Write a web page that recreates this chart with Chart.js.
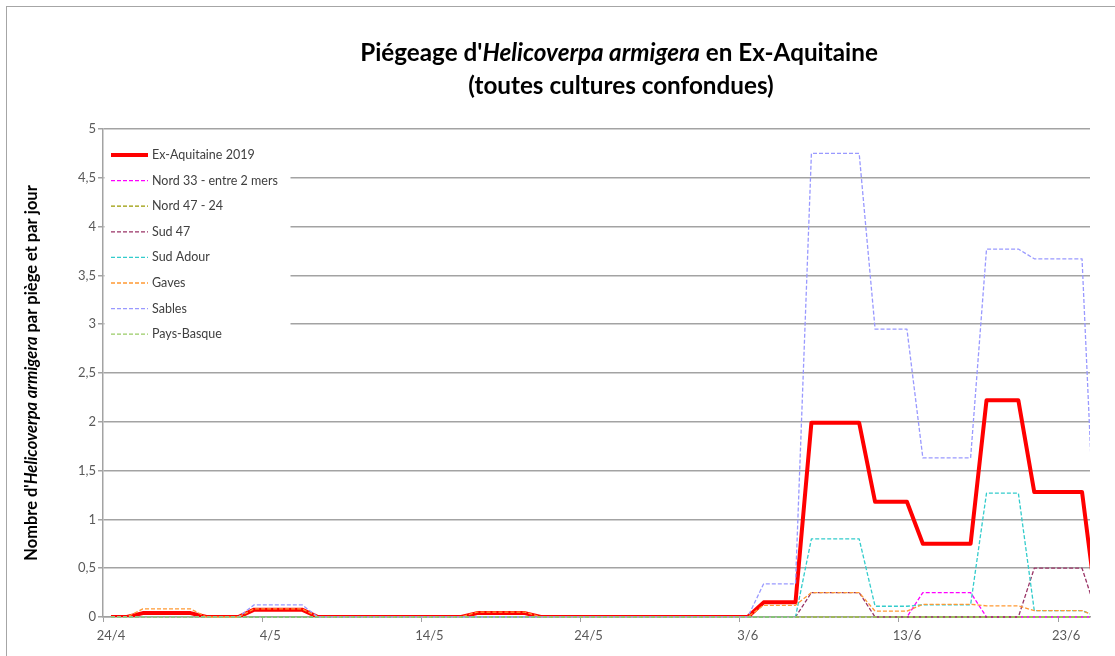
<!DOCTYPE html>
<html><head><meta charset="utf-8">
<script src="https://cdn.jsdelivr.net/npm/chart.js@4.4.1/dist/chart.umd.min.js"></script>
<style>html,body{margin:0;padding:0;background:#fff;}canvas{display:block;}</style>
</head><body>
<canvas id="c" width="1115" height="656"></canvas>
<script>
// ---- data (one value per day, day 0 = 24/4, day 62 = 25/6) ----
const xTickLabels = ['24/4','4/5','14/5','24/5','3/6','13/6','23/6'];
const seriesNames = ['Ex-Aquitaine 2019','Nord 33 - entre 2 mers','Nord 47 - 24','Sud 47','Sud Adour','Gaves','Sables','Pays-Basque'];

const exAquitaine = [
 0,0,0.04,0.04,0.04,0.04,0,0,0,0.075,
 0.075,0.075,0.075,0,0,0,0,0,0,0,
 0,0,0,0.04,0.04,0.04,0.04,0,0,0,
 0,0,0,0,0,0,0,0,0,0,
 0,0.15,0.15,0.15,1.99,1.99,1.99,1.99,1.18,1.18,
 1.18,0.75,0.75,0.75,0.75,2.22,2.22,2.22,1.28,1.28,
 1.28,1.28,0];
const nord33 = [
 0,0,0,0,0,0,0,0,0,0,
 0,0,0,0,0,0,0,0,0,0,
 0,0,0,0,0,0,0,0,0,0,
 0,0,0,0,0,0,0,0,0,0,
 0,0,0,0,0,0,0,0,0,0,
 0,0.25,0.25,0.25,0.25,0,0,0,0,0,
 0,0,0];
const nord4724 = [
 0,0,0,0,0,0,0,0,0,0,
 0,0,0,0,0,0,0,0,0,0,
 0,0,0,0,0,0,0,0,0,0,
 0,0,0,0,0,0,0,0,0,0,
 0,0,0,0,0,0,0,0,0,0,
 0,0,0,0,0,0,0,0,0,0,
 0,0,0];
const sud47 = [
 0,0,0,0,0,0,0,0,0,0,
 0,0,0,0,0,0,0,0,0,0,
 0,0,0,0,0,0,0,0,0,0,
 0,0,0,0,0,0,0,0,0,0,
 0,0,0,0,0.25,0.25,0.25,0.25,0,0,
 0,0,0,0,0,0,0,0,0.5,0.5,
 0.5,0.5,0];
const sudAdour = [
 0,0,0,0,0,0,0,0,0,0,
 0,0,0,0,0,0,0,0,0,0,
 0,0,0,0,0,0,0,0,0,0,
 0,0,0,0,0,0,0,0,0,0,
 0,0,0,0,0.8,0.8,0.8,0.8,0.11,0.11,
 0.11,0.125,0.125,0.125,0.125,1.27,1.27,1.27,0.065,0.065,
 0.065,0.065,0];
const gaves = [
 0,0,0.083,0.083,0.083,0.083,0,0,0,0.083,
 0.083,0.083,0.083,0,0,0,0,0,0,0,
 0,0,0,0.05,0.05,0.05,0.05,0,0,0,
 0,0,0,0,0,0,0,0,0,0,
 0,0.12,0.12,0.12,0.25,0.25,0.25,0.25,0.06,0.06,
 0.06,0.13,0.13,0.13,0.13,0.115,0.115,0.115,0.065,0.065,
 0.065,0.065,0];
const sables = [
 0,0,0,0,0,0,0,0,0,0.125,
 0.125,0.125,0.125,0,0,0,0,0,0,0,
 0,0,0,0,0,0,0,0,0,0,
 0,0,0,0,0,0,0,0,0,0,
 0,0.34,0.34,0.34,4.75,4.75,4.75,4.75,2.95,2.95,
 2.95,1.63,1.63,1.63,1.63,3.77,3.77,3.77,3.67,3.67,
 3.67,3.67,0];
const paysBasque = [
 0,0,0,0,0,0,0,0,0,0,
 0,0,0,0,0,0,0,0,0,0,
 0,0,0,0,0,0,0,0,0,0,
 0,0,0,0,0,0,0,0,0,0,
 0,0,0,0,0,0,0,0,0,0,
 0,0,0,0,0,0,0,0,0,0,
 0,0,0];

const FONT = 'Lato, "Open Sans", "DejaVu Sans", sans-serif';
const DASH = [4,2];
const series = [
  {data: exAquitaine, color:'#FF0000', width:4,   dash:[],   clipBottom:0},
  {data: nord33,      color:'#FF00FF', width:1.3, dash:DASH, clipBottom:1},
  {data: nord4724,    color:'#999900', width:1.3, dash:DASH, clipBottom:1},
  {data: sud47,       color:'#993366', width:1.3, dash:DASH, clipBottom:1},
  {data: sudAdour,    color:'#33CCCC', width:1.3, dash:DASH, clipBottom:1},
  {data: gaves,       color:'#FF9933', width:1.3, dash:DASH, clipBottom:1},
  {data: sables,      color:'#9999FF', width:1.3, dash:DASH, clipBottom:1},
  {data: paysBasque,  color:'#99CC66', width:1.3, dash:DASH, clipBottom:1}
];

const datasets = series.map((s,i)=>({
  label: seriesNames[i],
  data: s.data.map((v,d)=>({x:d+0.5, y:v})),
  borderColor: s.color,
  backgroundColor: s.color,
  borderWidth: s.width,
  borderDash: s.dash,
  borderJoinStyle: 'round',
  pointRadius: 0,
  tension: 0,
  fill: false,
  order: series.length - i,
  clip: {left:0, right:0, top:6, bottom:s.clipBottom}
}));

function richWidth(ctx, segs, size){
  let w = 0;
  segs.forEach(s=>{ ctx.font = (s.i?'italic ':'') + 'bold ' + size + 'px ' + FONT; w += ctx.measureText(s.t).width; });
  return w;
}
function drawRich(ctx, segs, cx, cy, size){
  const w = richWidth(ctx, segs, size);
  let x = cx - w/2;
  ctx.textBaseline = 'middle';
  ctx.textAlign = 'left';
  segs.forEach(s=>{
    ctx.font = (s.i?'italic ':'') + 'bold ' + size + 'px ' + FONT;
    ctx.fillText(s.t, x, cy);
    x += ctx.measureText(s.t).width;
  });
}

const title1 = [{t:"Piégeage d'", i:false},{t:'Helicoverpa armigera', i:true},{t:' en Ex-Aquitaine', i:false}];
const title2 = [{t:'(toutes cultures confondues)', i:false}];
const yTitle = [{t:"Nombre d'", i:false},{t:'Helicoverpa armigera', i:true},{t:' par piège et par jour', i:false}];

const decor = {
  id: 'decor',
  beforeDraw(chart){
    const ctx = chart.ctx;
    ctx.save();
    ctx.fillStyle = '#fff';
    ctx.fillRect(0,0,chart.width,chart.height);
    ctx.strokeStyle = '#a6a6a6';
    ctx.lineWidth = 1;
    ctx.strokeRect(6.5,6.5,chart.width+20,chart.height+20);
    ctx.restore();
  },
  afterDraw(chart){
    const ctx = chart.ctx;
    const area = chart.chartArea;
    ctx.save();
    // title
    ctx.fillStyle = '#000';
    let ts = 20 * 518 / richWidth(ctx, title1, 20);
    drawRich(ctx, title1, 619, 53, ts);
    drawRich(ctx, title2, 621, 86, ts);
    // y axis title
    let ys = 14 * 376 / richWidth(ctx, yTitle, 14);
    ctx.save();
    ctx.translate(32, (area.top + area.bottom)/2);
    ctx.rotate(-Math.PI/2);
    ctx.fillStyle = '#000';
    drawRich(ctx, yTitle, 0, 0, ys);
    ctx.restore();
    // legend box
    ctx.fillStyle = '#fff';
    ctx.fillRect(area.left + 1.5, area.top + 4, 186, 226);
    const rowTop = area.top + 26, rowGap = 25.6;
    chart.data.datasets.forEach((ds,i)=>{
      const y = rowTop + i*rowGap;
      ctx.beginPath();
      ctx.strokeStyle = ds.borderColor;
      ctx.lineWidth = ds.borderWidth;
      ctx.setLineDash(ds.borderDash || []);
      ctx.moveTo(area.left + 8, y);
      ctx.lineTo(area.left + 45, y);
      ctx.stroke();
      ctx.setLineDash([]);
      ctx.fillStyle = '#404040';
      ctx.font = '12.5px ' + FONT;
      ctx.textAlign = 'left';
      ctx.textBaseline = 'middle';
      ctx.fillText(ds.label, area.left + 49, y);
    });
    ctx.restore();
  }
};

new Chart(document.getElementById('c'), {
  type: 'line',
  data: { datasets },
  plugins: [decor],
  options: {
    responsive: false,
    animation: false,
    devicePixelRatio: 1,
    layout: { padding: { top: 129, right: 25, bottom: 0, left: 0 } },
    plugins: { legend: { display: false }, title: { display: false }, tooltip: { enabled: false } },
    scales: {
      x: {
        type: 'linear', min: 0, max: 62,
        afterFit(s){ s.height = 39; },
        grid: { drawOnChartArea: false, drawTicks: true, tickLength: 5, color: '#a0a0a0', lineWidth: 1 },
        border: { display: true, color: '#a0a0a0', width: 1.5 },
        ticks: {
          stepSize: 10, includeBounds: false, autoSkip: false, maxRotation: 0,
          labelOffset: 8, padding: 6, color: '#595959',
          font: { family: FONT, size: 13 },
          callback: v => (xTickLabels[v/10] !== undefined ? xTickLabels[v/10] : '')
        }
      },
      y: {
        min: 0, max: 5,
        afterFit(s){ s.width = 103; },
        grid: { color: '#a3a3a3', lineWidth: 1.5, tickLength: 5 },
        border: { display: true, color: '#a3a3a3', width: 1.5 },
        ticks: {
          stepSize: 0.5, padding: 2, color: '#595959',
          font: { family: FONT, size: 13 },
          callback: v => String(v).replace('.', ',')
        }
      }
    }
  }
});
</script>
</body></html>
